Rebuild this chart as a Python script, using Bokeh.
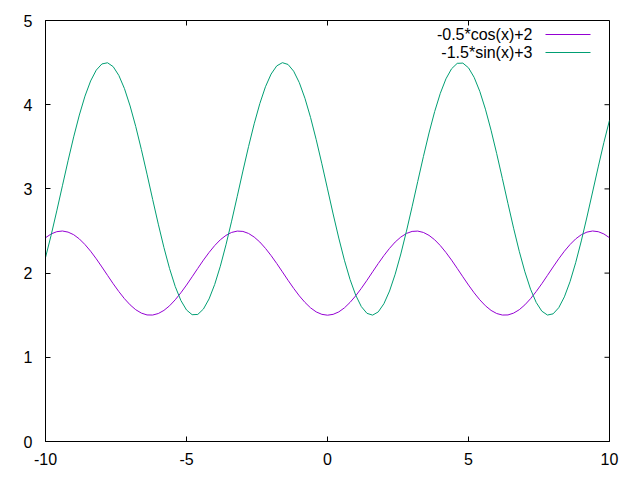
import math
from bokeh.plotting import figure
from bokeh.models import Range1d, FixedTicker, Label
from bokeh.embed import file_html
from bokeh.resources import INLINE

# sample positions
x = [-10.0, -9.8, -9.6, -9.4, -9.2, -9.0, -8.8, -8.6, -8.4, -8.2,
     -8.0, -7.8, -7.6, -7.4, -7.2, -7.0, -6.8, -6.6, -6.4, -6.2,
     -6.0, -5.8, -5.6, -5.4, -5.2, -5.0, -4.8, -4.6, -4.4, -4.2,
     -4.0, -3.8, -3.6, -3.4, -3.2, -3.0, -2.8, -2.6, -2.4, -2.2,
     -2.0, -1.8, -1.6, -1.4, -1.2, -1.0, -0.8, -0.6, -0.4, -0.2,
     0.0, 0.2, 0.4, 0.6, 0.8, 1.0, 1.2, 1.4, 1.6, 1.8,
     2.0, 2.2, 2.4, 2.6, 2.8, 3.0, 3.2, 3.4, 3.6, 3.8,
     4.0, 4.2, 4.4, 4.6, 4.8, 5.0, 5.2, 5.4, 5.6, 5.8,
     6.0, 6.2, 6.4, 6.6, 6.8, 7.0, 7.2, 7.4, 7.6, 7.8,
     8.0, 8.2, 8.4, 8.6, 8.8, 9.0, 9.2, 9.4, 9.6, 9.8, 10.0]

# series: -0.5*cos(x)+2
y_cos = [2.420, 2.465, 2.492, 2.500, 2.487, 2.456, 2.406, 2.339, 2.260, 2.170,
         2.073, 1.973, 1.874, 1.781, 1.696, 1.623, 1.565, 1.525, 1.503, 1.502,
         1.520, 1.557, 1.612, 1.683, 1.766, 1.858, 1.956, 2.056, 2.154, 2.245,
         2.327, 2.396, 2.448, 2.483, 2.499, 2.495, 2.471, 2.428, 2.369, 2.294,
         2.208, 2.114, 2.015, 1.915, 1.819, 1.730, 1.652, 1.587, 1.539, 1.510,
         1.500, 1.510, 1.539, 1.587, 1.652, 1.730, 1.819, 1.915, 2.015, 2.114,
         2.208, 2.294, 2.369, 2.428, 2.471, 2.495, 2.499, 2.483, 2.448, 2.396,
         2.327, 2.245, 2.154, 2.056, 1.956, 1.858, 1.766, 1.683, 1.612, 1.557,
         1.520, 1.502, 1.503, 1.525, 1.565, 1.623, 1.696, 1.781, 1.874, 1.973,
         2.073, 2.170, 2.260, 2.339, 2.406, 2.456, 2.487, 2.500, 2.492, 2.465, 2.420]

# series: -1.5*sin(x)+3
y_sin = [2.184, 2.450, 2.739, 3.037, 3.334, 3.618, 3.877, 4.102, 4.282, 4.411,
         4.484, 4.498, 4.452, 4.348, 4.191, 3.985, 3.741, 3.467, 3.175, 2.875,
         2.581, 2.303, 2.053, 1.841, 1.675, 1.562, 1.506, 1.509, 1.573, 1.693,
         1.865, 2.082, 2.336, 2.617, 2.912, 3.212, 3.502, 3.773, 4.013, 4.213,
         4.364, 4.461, 4.499, 4.478, 4.398, 4.262, 4.076, 3.847, 3.584, 3.298,
         3.000, 2.702, 2.416, 2.153, 1.924, 1.738, 1.602, 1.522, 1.501, 1.539,
         1.636, 1.787, 1.987, 2.227, 2.498, 2.788, 3.088, 3.383, 3.664, 3.918,
         4.135, 4.307, 4.427, 4.491, 4.494, 4.438, 4.325, 4.159, 3.947, 3.697,
         3.419, 3.125, 2.825, 2.533, 2.259, 2.015, 1.809, 1.652, 1.548, 1.502,
         1.516, 1.589, 1.718, 1.898, 2.123, 2.382, 2.666, 2.963, 3.261, 3.550, 3.816]

series_names = ["-0.5*cos(x)+2", "-1.5*sin(x)+3"]
series_colors = ["#9400D3", "#009E73"]
x_ticks = [-10, -5, 0, 5, 10]
x_tick_labels = ["-10", "-5", "0", "5", "10"]
y_ticks = [0, 1, 2, 3, 4, 5]
y_tick_labels = ["0", "1", "2", "3", "4", "5"]
X_MIN, X_MAX = -10, 10
Y_MIN, Y_MAX = 0, 5

FONT = "Liberation Sans"
W, H = 640, 480
BL, BR, BT, BB = 45, 31, 20, 39
FW, FH = W - BL - BR, H - BT - BB

p = figure(width=W, height=H, output_backend="svg", toolbar_location=None,
           x_range=Range1d(X_MIN, X_MAX), y_range=Range1d(Y_MIN, Y_MAX),
           min_border_left=BL, min_border_right=BR, min_border_top=BT, min_border_bottom=BB)
p.extra_x_ranges = {"px": Range1d(0, FW)}
p.extra_y_ranges = {"px": Range1d(0, FH)}
p.grid.visible = False
p.outline_line_color = "black"
p.outline_line_width = 1
p.background_fill_color = "white"
p.border_fill_color = "white"

p.line(x, y_cos, line_color=series_colors[0], line_width=1)
p.line(x, y_sin, line_color=series_colors[1], line_width=1)

p.xaxis.ticker = FixedTicker(ticks=x_ticks)
p.yaxis.ticker = FixedTicker(ticks=y_ticks)
p.xaxis.major_label_overrides = dict(zip(x_ticks, x_tick_labels))
p.yaxis.major_label_overrides = dict(zip(y_ticks, y_tick_labels))
for ax in p.axis:
    ax.axis_line_color = "black"
    ax.axis_line_width = 1
    ax.major_tick_line_color = "black"
    ax.major_tick_in = 5
    ax.major_tick_out = 0
    ax.minor_tick_in = 0
    ax.minor_tick_out = 0
    ax.major_label_text_font = FONT
    ax.major_label_text_font_size = "16px"
    ax.major_label_text_color = "black"
p.xaxis.major_label_standoff = 11
p.yaxis.major_label_standoff = 13

# mirrored inward ticks on top and right borders
p.ray(x=x_ticks, y=[Y_MAX] * len(x_ticks), length=5, length_units="screen",
      angle=-math.pi / 2, line_color="black", line_width=1)
p.ray(x=[X_MAX] * len(y_ticks), y=y_ticks, length=5, length_units="screen",
      angle=math.pi, line_color="black", line_width=1)

# key: text right-aligned, sample line to its right (gnuplot style)
key_rows = [FH - 14, FH - 32]
for name, color, ky in zip(series_names, series_colors, key_rows):
    p.segment(x0=[500], x1=[545], y0=[ky], y1=[ky], line_color=color, line_width=1,
              x_range_name="px", y_range_name="px")
    p.add_layout(Label(x=487, y=ky, x_units="screen", y_units="screen", text=name,
                       text_align="right", text_baseline="middle", text_font=FONT,
                       text_font_size="16px", text_color="black"))

open("out.html", "w").write(file_html(p, INLINE))
